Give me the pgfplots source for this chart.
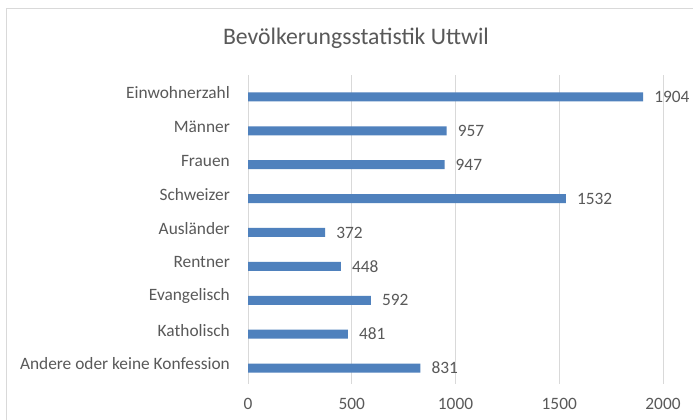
\documentclass[border=0pt]{standalone}
\usepackage{pgfplots}
\pgfplotsset{compat=1.18}
\usepackage{fontspec}
\setmainfont{Carlito}
\definecolor{barblue}{HTML}{4F81BD}
\definecolor{txtgray}{HTML}{595959}
\definecolor{gridgray}{HTML}{D9D9D9}
\begin{document}
\begin{tikzpicture}
\useasboundingbox (0,0) rectangle (693bp,420bp);
\fill[white] (0,0) rectangle (693bp,420bp);
\draw[gridgray, line width=0.9bp] (6.5bp,-5bp) rectangle (705bp,411.5bp);
\node[anchor=base, text=txtgray, font=\fontsize{23.8}{28}\selectfont, inner sep=0] at (356bp,375bp) {Bevölkerungsstatistik Uttwil};
\begin{axis}[
  at={(248bp,36bp)}, anchor=south west,
  scale only axis, width=415bp, height=309bp,
  xbar, bar width=9bp,
  xmin=0, xmax=2000,
  ymin=-0.472, ymax=8.649,
  xtick={0,500,1000,1500,2000},
  ytick={0,...,8},
  yticklabels={Andere oder keine Konfession, Katholisch, Evangelisch, Rentner, Ausländer, Schweizer, Frauen, Männer, Einwohnerzahl},
  axis line style={draw=none},
  major tick length=0,
  xmajorgrids, major grid style={gridgray, line width=0.9bp},
  tick label style={text=txtgray, font=\fontsize{17.4}{20}\selectfont},
  /pgf/number format/assume math mode=true,
  /pgf/number format/1000 sep={},
  xticklabel style={anchor=north, inner sep=0, yshift=-14bp},
  yticklabel style={anchor=east, inner sep=0, xshift=-18bp, yshift=4bp},
  nodes near coords,
  every node near coord/.append style={anchor=west, inner sep=0, xshift=11bp, text=txtgray, font=\fontsize{17.4}{20}\selectfont},
]
\addplot[fill=barblue, draw=none] coordinates {
 (831,0) (481,1) (592,2) (448,3) (372,4) (1532,5) (947,6) (957,7) (1904,8)
};
\end{axis}
\end{tikzpicture}
\end{document}
